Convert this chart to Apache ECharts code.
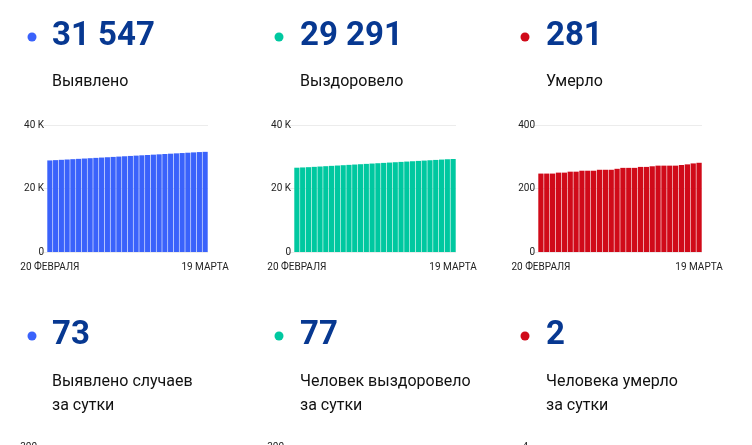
<!DOCTYPE html>
<html>
<head>
<meta charset="utf-8">
<script src="https://cdn.jsdelivr.net/npm/echarts@6/dist/echarts.min.js"></script>
<style>
  html, body { margin: 0; padding: 0; background: #fff; }
  #main { width: 752px; height: 445px; }
</style>
</head>
<body>
<div id="main"></div>
<script>
// даты по оси X
const days = [
  '20 ФЕВРАЛЯ', '21 ФЕВРАЛЯ', '22 ФЕВРАЛЯ', '23 ФЕВРАЛЯ', '24 ФЕВРАЛЯ', '25 ФЕВРАЛЯ', '26 ФЕВРАЛЯ',
  '27 ФЕВРАЛЯ', '28 ФЕВРАЛЯ', '1 МАРТА', '2 МАРТА', '3 МАРТА', '4 МАРТА', '5 МАРТА',
  '6 МАРТА', '7 МАРТА', '8 МАРТА', '9 МАРТА', '10 МАРТА', '11 МАРТА', '12 МАРТА',
  '13 МАРТА', '14 МАРТА', '15 МАРТА', '16 МАРТА', '17 МАРТА', '18 МАРТА', '19 МАРТА'
]
// выявлено (всего)
const cases = [28840, 28935, 29034, 29135, 29236, 29338, 29440, 29541, 29643, 29745, 29846, 29948, 30050, 30152,
  30254, 30355, 30456, 30558, 30660, 30762, 30864, 30966, 31068, 31168, 31270, 31372, 31474, 31547]
// выздоровело (всего)
const recovered = [26550, 26632, 26714, 26818, 26922, 27026, 27130, 27234, 27338, 27442, 27546, 27650, 27754, 27858,
  27962, 28066, 28170, 28274, 28378, 28482, 28586, 28690, 28794, 28898, 29003, 29108, 29214, 29291]
// умерло (всего)
const deaths = [247, 247, 247, 250, 250, 253, 253, 256, 256, 256, 259, 259, 259, 262,
  265, 265, 265, 268, 268, 270, 272, 272, 272, 272, 274, 276, 279, 281]

const totals = ['31 547', '29 291', '281']
const totalLabels = ['Выявлено', 'Выздоровело', 'Умерло']
const daily = ['73', '77', '2']
const dailyLabels = [['Выявлено случаев', 'за сутки'], ['Человек выздоровело', 'за сутки'], ['Человека умерло', 'за сутки']]
const yMax = [40000, 40000, 400]
const yStep = [20000, 20000, 200]
// подписи осей следующего ряда, которые обрезаны снизу
const nextRowTop = ['300', '300', '4']

const colors = ['#3a62fb', '#00c8a0', '#d00a19']
const numColor = '#073891'
const dotX = [32, 279, 525]
const textX = [52, 300, 546]
const grids = [
  { left: 47, top: 125, width: 161, height: 127 },
  { left: 294, top: 125, width: 162, height: 127 },
  { left: 538, top: 125, width: 164, height: 127 }
]
const seriesData = [cases, recovered, deaths]

let chart = echarts.init(document.getElementById('main'))

let graphic = []
for (let i = 0; i < 3; i++) {
  graphic.push(
    { type: 'circle', shape: { cx: dotX[i], cy: 37, r: 4.5 }, style: { fill: colors[i] } },
    { type: 'text', x: textX[i], y: 37, style: { text: totals[i], font: 'bold 33px Roboto', fill: numColor, verticalAlign: 'middle' } },
    { type: 'text', x: textX[i], y: 82, style: { text: totalLabels[i], font: '16px Roboto', fill: '#111', verticalAlign: 'middle' } },
    { type: 'circle', shape: { cx: dotX[i], cy: 336, r: 4.5 }, style: { fill: colors[i] } },
    { type: 'text', x: textX[i], y: 336, style: { text: daily[i], font: 'bold 33px Roboto', fill: numColor, verticalAlign: 'middle' } },
    { type: 'text', x: textX[i], y: 382, style: { text: dailyLabels[i][0], font: '16px Roboto', fill: '#111', verticalAlign: 'middle' } },
    { type: 'text', x: textX[i], y: 406, style: { text: dailyLabels[i][1], font: '16px Roboto', fill: '#111', verticalAlign: 'middle' } },
    { type: 'text', x: grids[i].left - 10, y: 447, style: { text: nextRowTop[i], font: '10px Roboto', fill: '#222', align: 'right', verticalAlign: 'middle' } }
  )
}

chart.setOption({
  animation: false,
  grid: grids,
  xAxis: grids.map((g, i) => ({
    type: 'category',
    gridIndex: i,
    data: days,
    axisLine: { show: false },
    axisTick: { show: false },
    axisLabel: {
      interval: (idx) => idx === 0 || idx === days.length - 1,
      color: '#222',
      fontFamily: 'Roboto',
      fontSize: 10,
      margin: 10
    }
  })),
  yAxis: grids.map((g, i) => ({
    type: 'value',
    gridIndex: i,
    min: 0,
    max: yMax[i],
    interval: yStep[i],
    axisLine: { show: false },
    axisTick: { show: true, length: 7, lineStyle: { color: '#ececec' } },
    splitLine: { lineStyle: { color: '#ececec' } },
    axisLabel: {
      color: '#222',
      fontFamily: 'Roboto',
      fontSize: 10,
      margin: 3,
      formatter: (v) => (yMax[i] >= 1000 && v > 0) ? (v / 1000) + ' K' : String(v)
    }
  })),
  series: seriesData.map((d, i) => ({
    type: 'bar',
    xAxisIndex: i,
    yAxisIndex: i,
    data: d,
    barCategoryGap: '10%',
    itemStyle: { color: colors[i] }
  })),
  graphic: graphic
})
</script>
</body>
</html>
